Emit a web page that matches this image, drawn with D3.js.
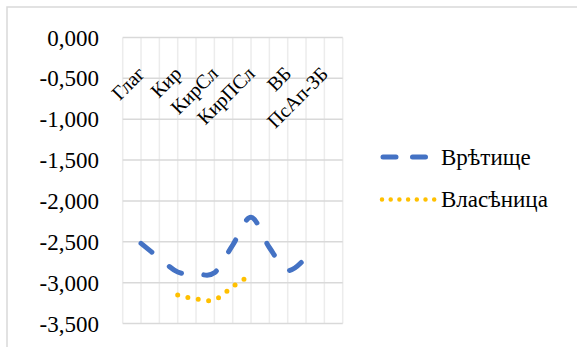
<!DOCTYPE html>
<html><head><meta charset="utf-8">
<script src="https://cdn.jsdelivr.net/npm/d3@7"></script>
</head><body style="margin:0">
<svg id="c" width="577" height="347"></svg>
<script>
// category slots (labels shown every other slot, as in the reference)
const categories = ["", "Глаг", "", "Кир", "", "КирСл", "", "КирПСл", "", "ВБ", "", "ПсАп-ЗБ", ""];
const seriesNames = ["Врѣтище", "Власѣница"];
// values per slot (null = no value)
const vretishte = [null, -2.52, -2.70, -2.87, -2.89, -2.88, -2.54, -2.20, -2.57, -2.85, -2.69, null, null];
const vlasenitsa = [null, null, null, -3.15, -3.20, -3.21, -3.05, -2.90, null, null, null, null, null];
const yTicks = [0, -0.5, -1, -1.5, -2, -2.5, -3, -3.5];

const FONT = "Liberation Serif";
const svg = d3.select("#c");
svg.append("rect").attr("x",0).attr("y",0).attr("width",577).attr("height",347).attr("fill","#fff");
// chart border
svg.append("rect").attr("x",7).attr("y",7).attr("width",640).attr("height",400)
  .attr("fill","none").attr("stroke","#d9d9d9").attr("stroke-width",1.5);

const x = d3.scalePoint().domain(d3.range(categories.length)).range([122.7, 342.7]);
const y = d3.scaleLinear().domain([-3.5, 0]).range([323.5, 37.5]);
const loc = d3.formatLocale({decimal:",", thousands:" ", grouping:[3], currency:["",""], minus:"-"});
const fmt = loc.format(".3f");

// vertical gridlines
svg.append("g").selectAll("line").data(x.domain()).join("line")
  .attr("x1", d=>x(d)).attr("x2", d=>x(d)).attr("y1", y(0)).attr("y2", y(-3.5))
  .attr("stroke","#ececec").attr("stroke-width",1.5);
// horizontal gridlines
svg.append("g").selectAll("line").data(yTicks).join("line")
  .attr("x1", x.range()[0]).attr("x2", x.range()[1]).attr("y1", d=>y(d)).attr("y2", d=>y(d))
  .attr("stroke","#d9d9d9").attr("stroke-width",1.5);

// y axis labels
const yAxis = d3.axisLeft(y).tickValues(yTicks).tickFormat(fmt).tickSize(0).tickPadding(0);
const ga = svg.append("g").attr("transform","translate(99,0)").call(yAxis)
  .attr("font-family", FONT).attr("font-size", 23);
ga.select(".domain").remove();
ga.selectAll("text").attr("font-family",FONT).attr("font-size",23).attr("fill","#000").attr("dy","0.33em");

// category labels
svg.append("g").attr("font-family",FONT).selectAll("text")
  .data(x.domain().filter(i=>categories[i]!=="")).join("text")
  .attr("transform", d=>`translate(${x(d)+5},${75}) rotate(-45)`)
  .attr("text-anchor","end").attr("font-family",FONT).attr("font-size",20).attr("fill","#000")
  .text(d=>categories[d]);

const line = d3.line().x(d=>x(d[0])).y(d=>y(d[1])).curve(d3.curveCardinal);
const pts = arr => arr.map((v,i)=>[i,v]).filter(d=>d[1]!==null);

svg.append("path").datum(pts(vretishte)).attr("d", line).attr("fill","none")
  .attr("stroke","#4472c4").attr("stroke-width",5).attr("stroke-linecap","round")
  .attr("stroke-dasharray","14 22.5");
svg.append("path").datum(pts(vlasenitsa)).attr("d", line).attr("fill","none")
  .attr("stroke","#ffc000").attr("stroke-width",5).attr("stroke-linecap","round")
  .attr("stroke-dasharray","0 10.5");

// legend
const lg = svg.append("g").attr("font-family",FONT);
lg.append("line").attr("x1",383).attr("x2",426).attr("y1",157).attr("y2",157)
  .attr("stroke","#4472c4").attr("stroke-width",5).attr("stroke-linecap","round").attr("stroke-dasharray","13 16.5");
lg.append("line").attr("x1",382).attr("x2",434.5).attr("y1",199.5).attr("y2",199.5)
  .attr("stroke","#ffc000").attr("stroke-width",4.5).attr("stroke-linecap","round").attr("stroke-dasharray","0 8.7");
lg.selectAll("text").data(seriesNames).join("text")
  .attr("x",441).attr("y",(d,i)=>157+i*42.5).attr("dy","0.33em")
  .attr("font-family",FONT).attr("font-size",23).attr("fill","#000").text(d=>d);
</script>
</body></html>
